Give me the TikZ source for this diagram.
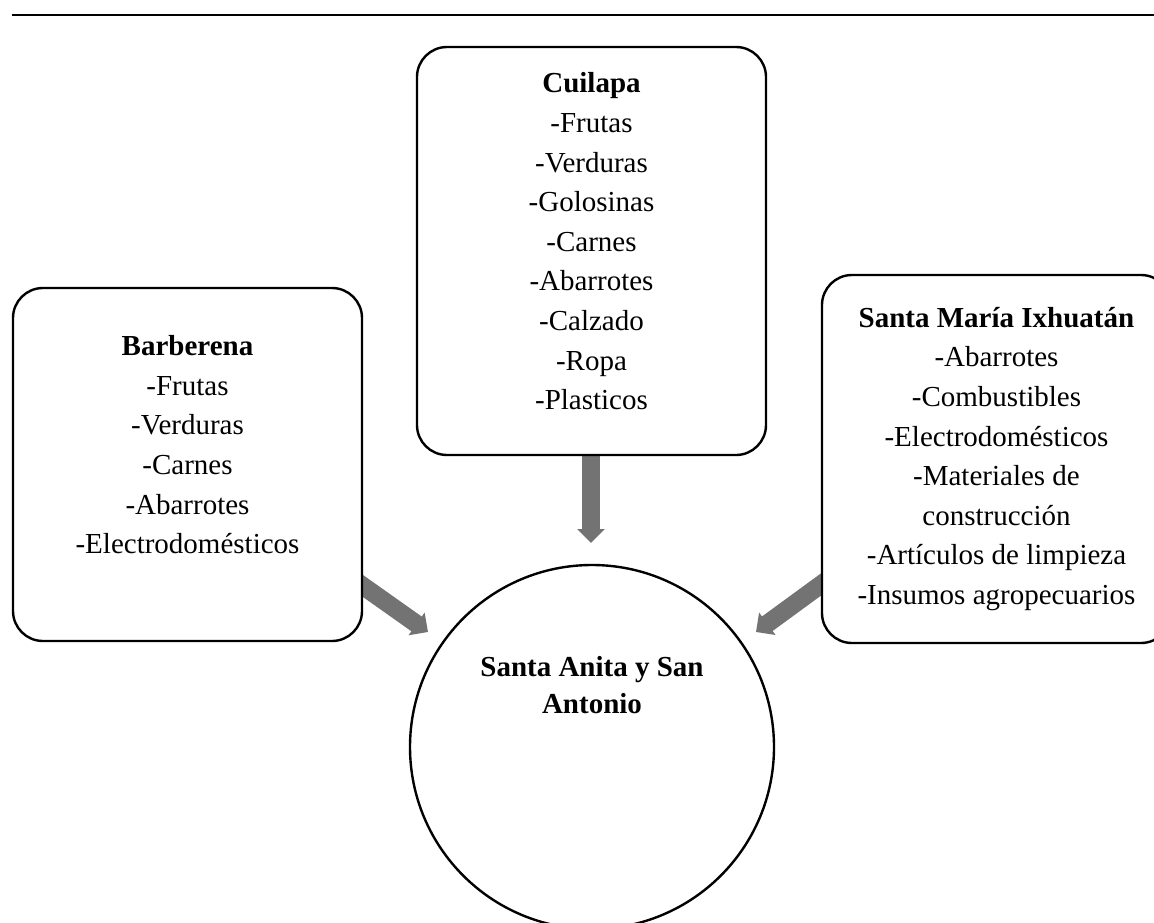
\documentclass[tikz,border=0pt]{standalone}
\usepackage{fontspec}
\setmainfont{Liberation Serif}
\usetikzlibrary{arrows.meta,backgrounds}
\begin{document}
\begin{tikzpicture}[x=1pt, y=-1pt, line join=round,
		caja/.style={draw, fill=white, line width=2.4pt, rounded corners=30pt, align=center, inner sep=0pt,
			minimum width=349pt, font=\fontsize{29}{39.6}\selectfont},
		flecha/.style={line width=18pt, line cap=butt, black!55, -{Triangle[length=14pt, width=27pt]}}]
	\useasboundingbox (0,0) rectangle (1154,923);
	\clip (0,0) rectangle (1154,923);
	\draw[line width=1.8pt] (12,15) -- (1154,15);
	\node[caja, minimum height=353pt] (bar) at (187.5,464.5) {\textbf{Barberena}\\-Frutas\\-Verduras\\-Carnes\\-Abarrotes\\-Electrodomésticos\\~};
	\node[caja, minimum height=408pt] (cui) at (591.5,251) {\textbf{Cuilapa}\\-Frutas\\-Verduras\\-Golosinas\\-Carnes\\-Abarrotes\\-Calzado\\-Ropa\\-Plasticos\\[-20pt]~};
	\node[caja, minimum height=368pt] (smi) at (996.5,459) {\textbf{Santa María Ixhuatán}\\-Abarrotes\\-Combustibles\\-Electrodomésticos\\-Materiales de\\construcción\\-Artículos de limpieza\\-Insumos agropecuarios};
	\node[draw, circle, line width=2.4pt, minimum size=364pt] (sai) at (592,747) {};
	\node[align=center, font=\bfseries\fontsize{29}{37}\selectfont] (sai-txt) at ([yshift=62pt]sai.center) {Santa Anita y San\\Antonio};
	% flechas hacia Santa Anita
	\coordinate (t1) at (591,543);
	\coordinate (t2) at (428,632);
	\coordinate (t3) at (756,632);
	\begin{scope}[on background layer]
		\draw[flecha] (t1 |- cui.south) -- (t1);
		\draw[flecha] ([xshift=-20pt, yshift=-107.5pt]bar.east) -- (t2);
		\draw[flecha] ([xshift=20pt, yshift=-111pt]smi.west) -- (t3);
	\end{scope}
\end{tikzpicture}
\end{document}
